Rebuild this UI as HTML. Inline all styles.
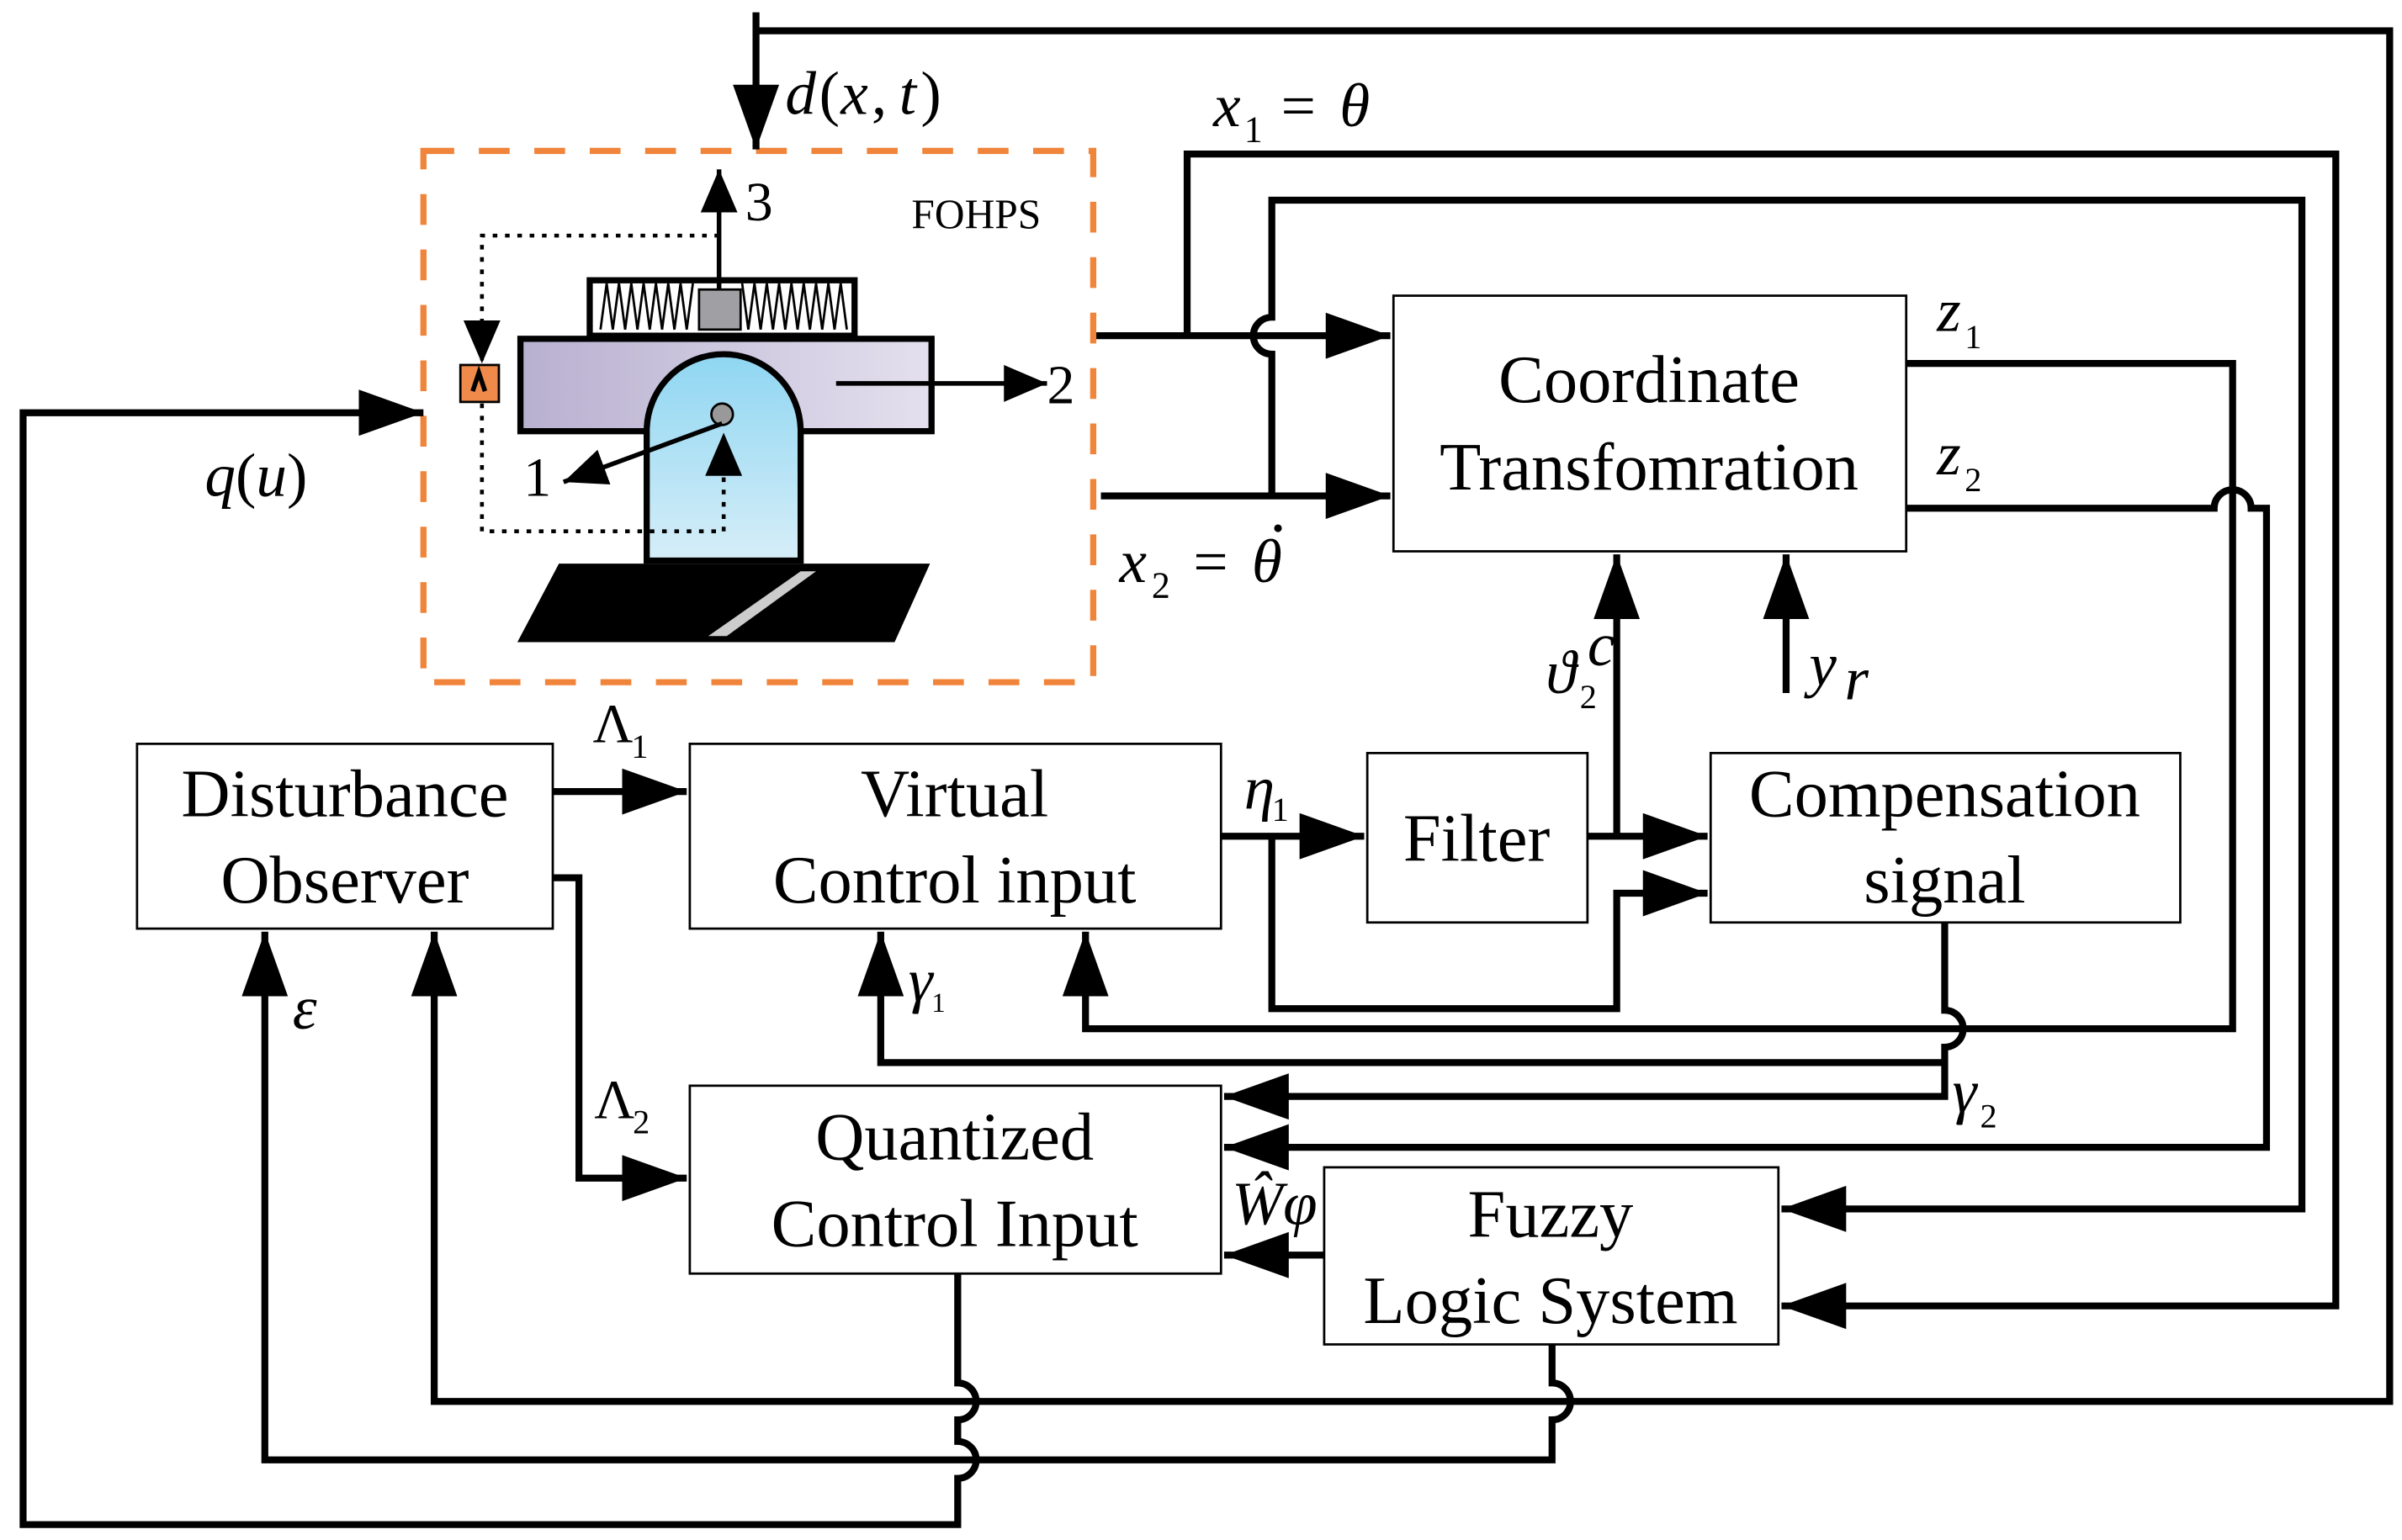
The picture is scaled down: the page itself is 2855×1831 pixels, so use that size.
<!DOCTYPE html>
<html><head><meta charset="utf-8"><style>
html,body{margin:0;padding:0;background:#fff}
svg{display:block}
text{font-family:"Liberation Serif",serif;fill:#000}
.b{font-size:44px;text-anchor:middle}
.m{font-style:italic;font-size:40px}
</style></head><body>
<svg width="2855" height="1831" viewBox="0 0 1560 1000" preserveAspectRatio="none" xmlns="http://www.w3.org/2000/svg">
<defs>
<marker id="a" markerUnits="userSpaceOnUse" markerWidth="42" markerHeight="30" refX="42" refY="15" orient="auto"><path d="M0,0 L42,15 L0,30 z" fill="#000"/></marker>
<marker id="s" markerUnits="userSpaceOnUse" markerWidth="28" markerHeight="24" refX="28" refY="12" orient="auto"><path d="M0,0 L28,12 L0,24 z" fill="#000"/></marker>
<linearGradient id="pl" x1="0" x2="1"><stop offset="0" stop-color="#b8b0d0"/><stop offset="1" stop-color="#e4e0ee"/></linearGradient>
<linearGradient id="bl" x1="0" y1="0" x2="0" y2="1"><stop offset="0" stop-color="#8fd6f2"/><stop offset="1" stop-color="#d6eef8"/></linearGradient>
</defs>

<!-- FOHPS box -->
<rect x="275" y="98" width="435" height="345" fill="none" stroke="#f0843a" stroke-width="4" stroke-dasharray="20,16"/>
<text x="592" y="148" font-size="27">FOHPS</text>
<!-- ground -->
<polygon points="363,366 604,366 581,417 336,417" fill="#000"/>
<polygon points="520,371 530,371 472,413 460,413" fill="#ccc"/>
<!-- spring box -->
<rect x="383" y="182" width="172" height="36" fill="#fff" stroke="#000" stroke-width="4"/>
<path d="M390,214 l4,-30 l4,30 l4,-30 l4,30 l4,-30 l4,30 l4,-30 l4,30 l4,-30 l4,30 l4,-30 l4,30 l4,-30 l4,30 l4,-30" fill="none" stroke="#000" stroke-width="1.5"/>
<path d="M482,184 l4,30 l4,-30 l4,30 l4,-30 l4,30 l4,-30 l4,30 l4,-30 l4,30 l4,-30 l4,30 l4,-30 l4,30 l4,-30 l4,30 l4,-30 l4,30" fill="none" stroke="#000" stroke-width="1.5"/>
<rect x="454" y="188" width="27" height="26" fill="#a0a0a4" stroke="#000" stroke-width="1.5"/>
<!-- plate -->
<rect x="338" y="220" width="267" height="60" fill="url(#pl)" stroke="#000" stroke-width="4"/>
<!-- arch -->
<path d="M420,364 V280 A50,50 0 0 1 520,280 V364 Z" fill="url(#bl)" stroke="#000" stroke-width="4"/>
<circle cx="469" cy="269" r="7" fill="#999" stroke="#000" stroke-width="1.5"/>
<!-- arrows in illustration -->
<path d="M467,188 V110" stroke="#000" stroke-width="3" marker-end="url(#s)"/>
<text x="484" y="143" font-size="36">3</text>
<path d="M543,249 H680" stroke="#000" stroke-width="3" marker-end="url(#s)"/>
<text x="680" y="262" font-size="36">2</text>
<path d="M469,275 L366,313" stroke="#000" stroke-width="3" marker-end="url(#s)"/>
<text x="340" y="322" font-size="36">1</text>
<path d="M467,153 H313 V236" fill="none" stroke="#000" stroke-width="2.5" stroke-dasharray="3,5" marker-end="url(#s)"/>
<rect x="299" y="237" width="25" height="24" fill="#f08a4a" stroke="#000" stroke-width="1.5"/>
<path d="M307,254 L311,242 L315,254" fill="none" stroke="#000" stroke-width="3"/>
<path d="M313,262 V345 H470 V281" fill="none" stroke="#000" stroke-width="2.5" stroke-dasharray="3,5" marker-end="url(#s)"/>

<!-- blocks -->
<g fill="#fff" stroke="#000" stroke-width="1.5">
<rect x="905" y="192" width="333" height="166"/>
<rect x="89" y="483" width="270" height="120"/>
<rect x="448" y="483" width="345" height="120"/>
<rect x="888" y="489" width="143" height="110"/>
<rect x="1111" y="489" width="305" height="110"/>
<rect x="448" y="705" width="345" height="122"/>
<rect x="860" y="758" width="295" height="115"/>
</g>
<text class="b" x="1071" y="261">Coordinate</text>
<text class="b" x="1071" y="318">Transfomration</text>
<text class="b" x="224" y="530">Disturbance</text>
<text class="b" x="224" y="586">Observer</text>
<text class="b" x="620" y="530">Virtual</text>
<text class="b" x="620" y="586">Control input</text>
<text class="b" x="959" y="559">Filter</text>
<text class="b" x="1263" y="530">Compensation</text>
<text class="b" x="1263" y="586">signal</text>
<text class="b" x="620" y="753">Quantized</text>
<text class="b" x="620" y="809">Control Input</text>
<text class="b" x="1007" y="803">Fuzzy</text>
<text class="b" x="1007" y="859">Logic System</text>

<!-- connectors -->
<g fill="none" stroke="#000" stroke-width="4.5">
<path d="M491,8 V97" marker-end="url(#a)"/>
<path d="M491,20 H1552 V910 H282 V605" marker-end="url(#a)"/>
<path d="M1008,873 V898 A12,12 0 0 1 1008,922 V948 H172 V605" marker-end="url(#a)"/>
<path d="M622,827 V898 A12,12 0 0 1 622,922 V936 A12,12 0 0 1 622,960 V990 H15 V268 H275" marker-end="url(#a)"/>
<path d="M712,218 H903" marker-end="url(#a)"/>
<path d="M771,218 V100 H1517 V848 H1157" marker-end="url(#a)"/>
<path d="M826,322 V230 A12,12 0 0 1 826,206 V130 H1495 V785 H1157" marker-end="url(#a)"/>
<path d="M715,322 H903" marker-end="url(#a)"/>
<path d="M1238,236 H1450 V668 H705 V605" marker-end="url(#a)"/>
<path d="M1238,330 H1438 A12,12 0 0 1 1462,330 H1472 V745 H795" marker-end="url(#a)"/>
<path d="M1263,599 V656 A12,12 0 0 1 1263,680 V712 H795" marker-end="url(#a)"/>
<path d="M1263,690 H572 V605" marker-end="url(#a)"/>
<path d="M793,543 H886" marker-end="url(#a)"/>
<path d="M1031,543 H1109" marker-end="url(#a)"/>
<path d="M1050,543 V360" marker-end="url(#a)"/>
<path d="M826,543 V655 H1050 V580 H1109" marker-end="url(#a)"/>
<path d="M1160,450 V360" marker-end="url(#a)"/>
<path d="M359,514 H446" marker-end="url(#a)"/>
<path d="M359,570 H376 V765 H446" marker-end="url(#a)"/>
<path d="M860,815 H795" marker-end="url(#a)"/>
</g>

<!-- labels -->
<text class="m" x="510" y="74">d</text><text x="532" y="74" font-size="40">(</text><text class="m" x="546" y="74">x</text><text x="566" y="74" font-size="40">,</text><text class="m" x="584" y="74">t</text><text x="598" y="74" font-size="40">)</text>
<text class="m" x="788" y="82">x</text><text x="808" y="92" font-size="24">1</text><text x="832" y="82" font-size="40">=</text><text class="m" x="870" y="82">θ</text>
<text x="133" y="322" font-size="40"><tspan font-style="italic">q</tspan>(<tspan font-style="italic">u</tspan>)</text>
<text class="m" x="727" y="378">x</text><text x="748" y="388" font-size="24">2</text><text x="775" y="378" font-size="40">=</text><text class="m" x="813" y="378">θ</text><circle cx="830" cy="343" r="2.5" fill="#000"/>
<text class="m" x="1258" y="215" font-size="34">z</text><text x="1276" y="226" font-size="22">1</text>
<text class="m" x="1258" y="308" font-size="34">z</text><text x="1276" y="319" font-size="22">2</text>
<text class="m" x="1004" y="450" font-size="36">ϑ</text><text x="1026" y="460" font-size="22">2</text><text class="m" x="1031" y="432" font-size="20">c</text>
<text class="m" x="1175" y="445" font-size="38">y</text><text class="m" x="1198" y="454" font-size="22">r</text>
<text x="385" y="482" font-size="36">Λ</text><text x="410" y="492" font-size="22">1</text>
<text class="m" x="808" y="525" font-size="34">η</text><text x="826" y="533" font-size="22">1</text>
<text class="m" x="590" y="650" font-size="28">γ</text><text x="605" y="657" font-size="18">1</text>
<text x="386" y="726" font-size="36">Λ</text><text x="411" y="736" font-size="22">2</text>
<text class="m" x="1268" y="722" font-size="30">γ</text><text x="1286" y="732" font-size="22">2</text>
<text class="m" x="800" y="795" font-size="24">Ŵφ</text>
<text class="m" x="190" y="668" font-size="38">ε</text>
</svg>
</body></html>
